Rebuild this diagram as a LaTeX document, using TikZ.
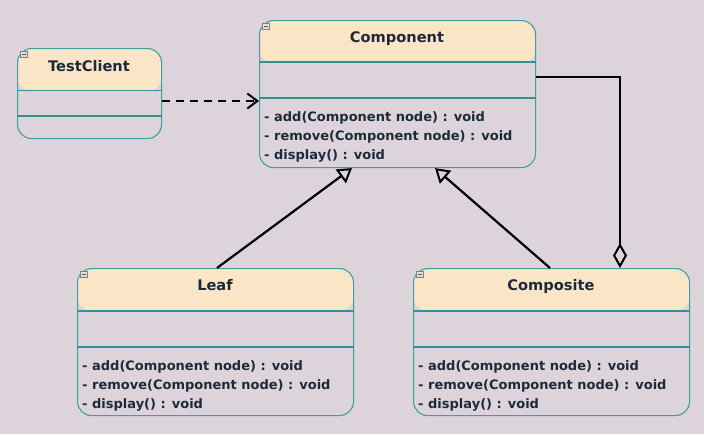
\documentclass[tikz,border=0pt]{standalone}
\usepackage{fontspec}
\setmainfont{DejaVu Sans}
\usetikzlibrary{arrows.meta}
\definecolor{bg}{RGB}{220,212,218}
\definecolor{hdr}{RGB}{251,229,199}
\definecolor{bord}{RGB}{64,160,160}
\definecolor{divc}{RGB}{50,145,145}
\definecolor{txt}{RGB}{30,42,58}
\tikzset{
  cls/.style n args={2}{draw=bord, line width=1.1pt, rounded corners=14pt,
    minimum width=#1, minimum height=#2, inner sep=0pt, anchor=north west,
    path picture={\fill[hdr] (path picture bounding box.north west) rectangle ([yshift=-42.5pt]path picture bounding box.north east);}},
  divline/.style={draw=divc, line width=1.1pt},
  ctitle/.style={anchor=base, inner sep=0pt, text=txt, font=\bfseries\fontsize{14.6}{17}\selectfont},
  member/.style={anchor=base west, inner sep=0pt, text=txt, font=\bfseries\fontsize{13.0}{16}\selectfont},
  conn/.style={line width=2.2pt, black},
  dep/.style={conn, dash pattern=on 8pt off 6pt, -{Straight Barb[length=10pt,width=15pt,line width=2pt]}},
  inh/.style={conn, -{Triangle[length=14pt,width=17pt,fill=bg,line width=2pt]}},
  agg/.style={conn, -{Diamond[length=25pt,width=14pt,fill=bg,line width=2pt]}},
  icon/.style={draw=gray, fill=gray!25, line width=0.6pt},
}
\newcommand{\clsicon}[2]{%
  \draw[icon] (#1+3.5,#2+3.5) rectangle (#1+10,#2+9.5);
  \draw[gray!70!black, line width=0.8pt] (#1+5,#2+6.5) -- (#1+8.5,#2+6.5);}
\begin{document}
\begin{tikzpicture}[x=1pt,y=-1pt]
\fill[bg] (0,0) rectangle (704,434);
\useasboundingbox (0,0) rectangle (704,434);

% TestClient
\node[cls={144pt}{90pt}] (tc) at (17,48) {};
\draw[divline] (tc.west |- 0,90.7) -- (tc.east |- 0,90.7);
\draw[divline] (tc.west |- 0,116) -- (tc.east |- 0,116);
\clsicon{17}{48}
\node[ctitle] (tct) at (89,71) {TestClient};

% Component
\node[cls={276pt}{147pt}] (comp) at (259,20) {};
\draw[divline] (comp.west |- 0,62) -- (comp.east |- 0,62);
\draw[divline] (comp.west |- 0,98) -- (comp.east |- 0,98);
\clsicon{259}{20}
\node[ctitle] (compt) at (397,42) {Component};
\node[member] (compm1) at (264,121) {- add(Component node) : void};
\node[member] (compm2) at (264,140) {- remove(Component node) : void};
\node[member] (compm3) at (264,159) {- display() : void};

% Leaf
\node[cls={276pt}{147pt}] (leaf) at (77,268) {};
\draw[divline] (leaf.west |- 0,311) -- (leaf.east |- 0,311);
\draw[divline] (leaf.west |- 0,347) -- (leaf.east |- 0,347);
\clsicon{77}{268}
\node[ctitle] (leaft) at (215,290) {Leaf};
\node[member] (leafm1) at (82,370) {- add(Component node) : void};
\node[member] (leafm2) at (82,389) {- remove(Component node) : void};
\node[member] (leafm3) at (82,408) {- display() : void};

% Composite
\node[cls={276pt}{147pt}] (cps) at (413,268) {};
\draw[divline] (cps.west |- 0,311) -- (cps.east |- 0,311);
\draw[divline] (cps.west |- 0,347) -- (cps.east |- 0,347);
\clsicon{413}{268}
\node[ctitle] (cpst) at (551,290) {Composite};
\node[member] (cpsm1) at (418,370) {- add(Component node) : void};
\node[member] (cpsm2) at (418,389) {- remove(Component node) : void};
\node[member] (cpsm3) at (418,408) {- display() : void};

% connectors
\draw[dep] (tc.east |- 0,101) -- (comp.west |- 0,101);
\draw[inh] (leaf.north -| 217,0) -- (comp.south -| 352,0);
\draw[inh] (cps.north -| 550,0) -- (comp.south -| 435,0);
\draw[agg] (comp.east |- 0,77) -| (cps.north -| 620,0);
\end{tikzpicture}
\end{document}
